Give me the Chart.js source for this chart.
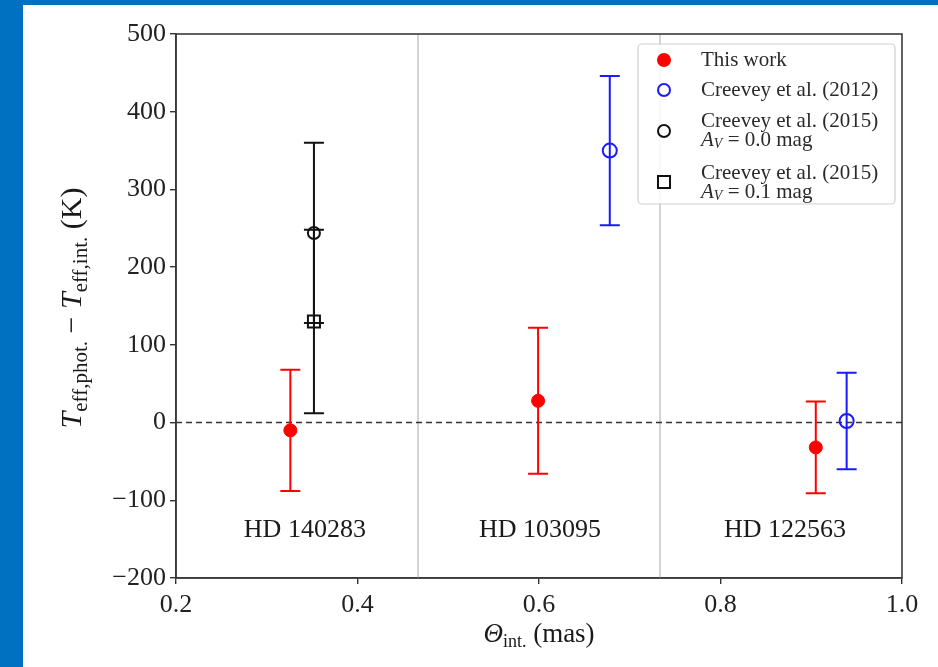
<!DOCTYPE html>
<html>
<head>
<meta charset="utf-8">
<script src="https://cdn.jsdelivr.net/npm/chart.js@4/dist/chart.umd.min.js"></script>
<style>
  html, body { margin: 0; padding: 0; background: #fff; }
  canvas { display: block; }
</style>
</head>
<body>
<canvas id="teffChart" width="938" height="667"></canvas>
<script>
// values
const thetaThisWork = [0.326, 0.599, 0.905];
const dTeffThisWork = [-10, 28, -32];
const errThisWork = [78, 94, 59];

const theta2012 = [0.678, 0.939];
const dTeff2012 = [350, 2];
const err2012 = [96, 62];

const theta2015Av0 = [0.352];
const dTeff2015Av0 = [244];
const err2015Av0 = [116];

const theta2015Av1 = [0.352];
const dTeff2015Av1 = [130];
const err2015Av1 = [118];

const starNames = ['HD 140283', 'HD 103095', 'HD 122563'];
const starLabelX = [0.342, 0.601, 0.871];
const starLabelY = -138;
const separatorX = [0.4667, 0.7333];

const xMin = 0.2, xMax = 1.0, xStep = 0.2;
const yMin = -200, yMax = 500, yStep = 100;

const legendLines = [
  ['This work'],
  ['Creevey et al. (2012)'],
  ['Creevey et al. (2015)', 'A_V = 0.0 mag'],
  ['Creevey et al. (2015)', 'A_V = 0.1 mag']
];

const SERIF = '"Liberation Serif", "DejaVu Serif", serif';

function pts(xs, ys) {
  return xs.map((x, i) => ({ x: x, y: ys[i] }));
}

// draw a run of text pieces [text, font, dy] centred on x
function drawParts(ctx, parts, x, y) {
  let total = 0;
  parts.forEach(p => { ctx.font = p[1]; total += ctx.measureText(p[0]).width; });
  let cx = x - total / 2;
  parts.forEach(p => {
    ctx.font = p[1];
    ctx.fillText(p[0], cx, y + (p[2] || 0));
    cx += ctx.measureText(p[0]).width;
  });
}

const background = {
  id: 'background',
  beforeDraw(chart) {
    const ctx = chart.ctx;
    ctx.save();
    ctx.fillStyle = '#ffffff';
    ctx.fillRect(0, 0, chart.width, chart.height);
    ctx.fillStyle = '#0070c0';
    ctx.fillRect(0, 0, chart.width, 5);
    ctx.fillRect(0, 0, 23, chart.height);
    ctx.restore();
  }
};

const errorBars = {
  id: 'errorBars',
  beforeDatasetDraw(chart, args) {
    const ds = chart.data.datasets[args.index];
    if (!ds.errors) return;
    const ctx = chart.ctx;
    const x = chart.scales.x, y = chart.scales.y;
    ctx.save();
    ctx.strokeStyle = ds.borderColor;
    ctx.lineWidth = 2;
    ds.data.forEach((p, j) => {
      const px = x.getPixelForValue(p.x);
      const top = y.getPixelForValue(p.y + ds.errors[j]);
      const bot = y.getPixelForValue(p.y - ds.errors[j]);
      ctx.beginPath();
      ctx.moveTo(px, top); ctx.lineTo(px, bot);
      ctx.moveTo(px - 10, top); ctx.lineTo(px + 10, top);
      ctx.moveTo(px - 10, bot); ctx.lineTo(px + 10, bot);
      ctx.stroke();
    });
    ctx.restore();
  }
};

const annotations = {
  id: 'annotations',
  afterDraw(chart) {
    const ctx = chart.ctx;
    const a = chart.chartArea;
    const x = chart.scales.x, y = chart.scales.y;
    ctx.save();

    // frame
    ctx.strokeStyle = '#3a3a3a';
    ctx.lineWidth = 1.6;
    ctx.strokeRect(a.left, a.top, a.right - a.left, a.bottom - a.top);

    // star names
    ctx.fillStyle = '#1a1a1a';
    ctx.font = '26px ' + SERIF;
    ctx.textAlign = 'center';
    ctx.textBaseline = 'middle';
    starNames.forEach((n, i) => {
      ctx.fillText(n, x.getPixelForValue(starLabelX[i]), y.getPixelForValue(starLabelY));
    });

    // axis titles
    ctx.textAlign = 'left';
    ctx.textBaseline = 'alphabetic';
    drawParts(ctx, [
      ['\u0398', 'italic 27px ' + SERIF, 0],
      ['int.', '18px ' + SERIF, 5],
      [' (mas)', '27px ' + SERIF, 0]
    ], 539, 642);

    ctx.save();
    ctx.translate(72, 308);
    ctx.rotate(-Math.PI / 2);
    drawParts(ctx, [
      ['T', 'italic 30px ' + SERIF, 0],
      ['eff,phot.', '21px ' + SERIF, 6],
      [' \u2212 ', '30px ' + SERIF, 0],
      ['T', 'italic 30px ' + SERIF, 0],
      ['eff,int.', '21px ' + SERIF, 6],
      [' (K)', '30px ' + SERIF, 0]
    ], 0, 9);
    ctx.restore();

    // legend
    const lx = 638, ly = 44, lw = 257, lh = 160;
    ctx.fillStyle = 'rgba(255,255,255,0.85)';
    ctx.strokeStyle = '#d0d0d0';
    ctx.lineWidth = 1.2;
    ctx.beginPath();
    ctx.roundRect(lx, ly, lw, lh, 4);
    ctx.fill();
    ctx.stroke();

    const markerX = 664, textX = 701;
    const rows = [
      { my: 60, ty: [60] },
      { my: 90, ty: [90] },
      { my: 131, ty: [121, 140] },
      { my: 182, ty: [173, 192] }
    ];
    const sets = chart.data.datasets.filter(d => d.errors);
    rows.forEach((r, i) => {
      const ds = sets[i];
      ctx.lineWidth = 2;
      ctx.strokeStyle = ds.borderColor;
      ctx.fillStyle = ds.backgroundColor;
      ctx.beginPath();
      if (ds.pointStyle === 'rect') {
        ctx.rect(markerX - 6, r.my - 6, 12, 12);
      } else {
        ctx.arc(markerX, r.my, 6, 0, Math.PI * 2);
      }
      ctx.fill();
      ctx.stroke();

      ctx.fillStyle = '#2a2a2a';
      ctx.textBaseline = 'middle';
      legendLines[i].forEach((line, k) => {
        if (line.startsWith('A_V')) {
          let cx = textX;
          ctx.font = 'italic 21px ' + SERIF;
          ctx.fillText('A', cx, r.ty[k]);
          cx += ctx.measureText('A').width;
          ctx.font = 'italic 14px ' + SERIF;
          ctx.fillText('V', cx, r.ty[k] + 4);
          cx += ctx.measureText('V').width;
          ctx.font = '21px ' + SERIF;
          ctx.fillText(line.slice(3), cx, r.ty[k]);
        } else {
          ctx.font = '21px ' + SERIF;
          ctx.fillText(line, textX, r.ty[k]);
        }
      });
    });

    ctx.restore();
  }
};

const ctx = document.getElementById('teffChart').getContext('2d');

const datasets = [];
separatorX.forEach(sx => {
  datasets.push({
    type: 'line',
    data: [{ x: sx, y: yMin }, { x: sx, y: yMax }],
    borderColor: '#d4d4d4',
    borderWidth: 2,
    pointRadius: 0,
    order: 10
  });
});
datasets.push({
  type: 'line',
  data: [{ x: xMin, y: 0 }, { x: xMax, y: 0 }],
  borderColor: '#333',
  borderWidth: 1.6,
  borderDash: [6, 4],
  pointRadius: 0,
  order: 9
});
datasets.push({
  label: 'This work',
  data: pts(thetaThisWork, dTeffThisWork),
  errors: errThisWork,
  pointStyle: 'circle',
  backgroundColor: '#ff0000',
  borderColor: '#ff0000',
  borderWidth: 1,
  pointRadius: 6.5,
  order: 1
});
datasets.push({
  label: 'Creevey et al. (2012)',
  data: pts(theta2012, dTeff2012),
  errors: err2012,
  pointStyle: 'circle',
  backgroundColor: 'rgba(0,0,0,0)',
  borderColor: '#1a1aff',
  borderWidth: 2,
  pointRadius: 7,
  order: 2
});
datasets.push({
  label: 'Creevey et al. (2015) AV = 0.0 mag',
  data: pts(theta2015Av0, dTeff2015Av0),
  errors: err2015Av0,
  pointStyle: 'circle',
  backgroundColor: 'rgba(0,0,0,0)',
  borderColor: '#111111',
  borderWidth: 2,
  pointRadius: 6,
  order: 3
});
datasets.push({
  label: 'Creevey et al. (2015) AV = 0.1 mag',
  data: pts(theta2015Av1, dTeff2015Av1),
  errors: err2015Av1,
  pointStyle: 'rect',
  backgroundColor: 'rgba(0,0,0,0)',
  borderColor: '#111111',
  borderWidth: 2,
  pointRadius: 8.5,
  order: 4
});

new Chart(ctx, {
  type: 'scatter',
  data: { datasets: datasets },
  options: {
    responsive: false,
    animation: false,
    layout: { padding: { left: 0, right: 36, top: 34, bottom: 0 } },
    plugins: {
      legend: { display: false },
      tooltip: { enabled: false }
    },
    scales: {
      x: {
        type: 'linear',
        min: xMin,
        max: xMax,
        afterFit: s => { s.height = 89; },
        ticks: {
          stepSize: xStep,
          color: '#222',
          padding: 6,
          maxRotation: 0,
          font: { family: SERIF, size: 26 },
          callback: v => Number(v).toFixed(1)
        },
        grid: { drawOnChartArea: false, drawTicks: true, tickLength: 6, color: '#333', lineWidth: 1.4 },
        border: { color: '#3a3a3a', width: 1.6 }
      },
      y: {
        type: 'linear',
        min: yMin,
        max: yMax,
        afterFit: s => { s.width = 176; },
        ticks: {
          stepSize: yStep,
          color: '#222',
          padding: 4,
          font: { family: SERIF, size: 26 },
          callback: v => String(v).replace('-', '\u2212')
        },
        grid: { drawOnChartArea: false, drawTicks: true, tickLength: 6, color: '#333', lineWidth: 1.4 },
        border: { color: '#3a3a3a', width: 1.6 }
      }
    }
  },
  plugins: [background, errorBars, annotations]
});
</script>
</body>
</html>
